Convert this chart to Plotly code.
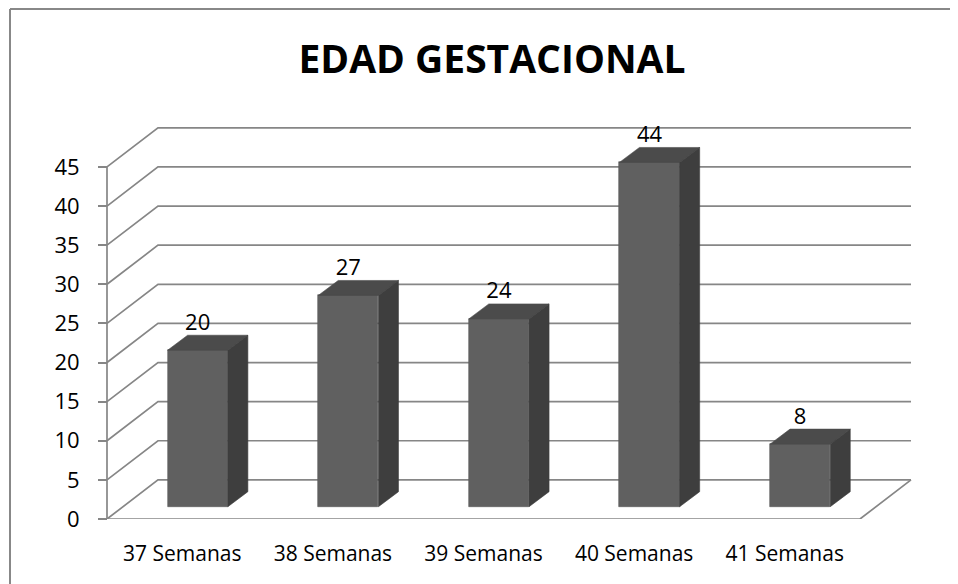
import plotly.graph_objects as go

# ---- data ----
CATEGORIES = ["37 Semanas", "38 Semanas", "39 Semanas", "40 Semanas", "41 Semanas"]
VALUES = [20, 27, 24, 44, 8]
Y_TICKS = [0, 5, 10, 15, 20, 25, 30, 35, 40, 45]
TITLE = "EDAD GESTACIONAL"

# ---- style / pseudo-3D projection (in axis units) ----
PAGE = 8                      # browser body margin
W, H = 958 - PAGE, 584 - PAGE
AXIS_PX = 107 - PAGE          # pixel x of front y-axis
ML, MR, MT, MB = 98 - PAGE, 38, 120 - PAGE, 65
PX_X = 150.6                  # pixels per category unit
Y_MAX = 51.0
WALL_DX, WALL_DY = 0.3386, 5.0      # back-wall depth offset
BAR_DX0, BAR_DY0 = 0.1023, 1.57     # bar front plane offset
BAR_W = 0.4
BAR_SX, BAR_SY = 0.133, 1.92        # bar depth
GRID = "#868686"
FRONT, TOP, SIDE = "#606060", "#4b4b4b", "#3e3e3e"
FONT = "Open Sans"

n = len(CATEGORIES)
plot_w = W - ML - MR
plot_h = H - MT - MB
x_lo = -(AXIS_PX - ML) / PX_X
x_hi = x_lo + plot_w / PX_X

fig = go.Figure()

# gridlines (left wall + back wall), floor and front axis line -> shapes below traces
grid_line = dict(color=GRID, width=1.7)
for v in Y_TICKS:
    fig.add_shape(type="path", xref="x", yref="y", layer="below", line=grid_line,
                  path=f"M 0,{v} L {WALL_DX},{v + WALL_DY} L {n + WALL_DX},{v + WALL_DY}")
fig.add_shape(type="path", xref="x", yref="y", layer="below", line=grid_line,
              path=f"M 0,{max(Y_TICKS)} L 0,0 L {n},0 L {n + WALL_DX},{WALL_DY}")

centers = [i + 0.5 + BAR_DX0 for i in range(n)]

# front faces
fig.add_trace(go.Bar(x=centers, y=VALUES, base=BAR_DY0, width=BAR_W,
                     marker=dict(color=FRONT, line=dict(color="#5a5a5a", width=0.6)),
                     hoverinfo="skip", showlegend=False))

# top and side faces
tx, ty, sx, sy = [], [], [], []
for c, v in zip(centers, VALUES):
    x0, x1 = c - BAR_W / 2, c + BAR_W / 2
    yt = BAR_DY0 + v
    tx += [x0, x1, x1 + BAR_SX, x0 + BAR_SX, x0, None]
    ty += [yt, yt, yt + BAR_SY, yt + BAR_SY, yt, None]
    sx += [x1, x1 + BAR_SX, x1 + BAR_SX, x1, x1, None]
    sy += [BAR_DY0, BAR_DY0 + BAR_SY, yt + BAR_SY, yt, BAR_DY0, None]
fig.add_trace(go.Scatter(x=tx, y=ty, mode="lines", fill="toself", fillcolor=TOP,
                         line=dict(color=TOP, width=0.6), hoverinfo="skip", showlegend=False))
fig.add_trace(go.Scatter(x=sx, y=sy, mode="lines", fill="toself", fillcolor=SIDE,
                         line=dict(color=SIDE, width=0.6), hoverinfo="skip", showlegend=False))

# data labels
fig.add_trace(go.Scatter(x=centers, y=[BAR_DY0 + v + BAR_SY for v in VALUES],
                         text=[str(v) for v in VALUES], mode="text", textposition="top center",
                         textfont=dict(family=FONT, size=22, color="black"),
                         cliponaxis=False, hoverinfo="skip", showlegend=False))

# chart-area border (top & left visible)
bx = (2 - ML) / plot_w
by = (H - MB - 1) / plot_h
fig.add_shape(type="line", xref="paper", yref="paper", x0=bx, x1=bx, y0=-0.3, y1=by,
              line=dict(color="#888888", width=2))
fig.add_shape(type="line", xref="paper", yref="paper", x0=bx, x1=1.2, y0=by, y1=by,
              line=dict(color="#888888", width=2))

fig.update_layout(
    width=W, height=H,
    margin=dict(l=ML, r=MR, t=MT, b=MB),
    paper_bgcolor="white", plot_bgcolor="white",
    title=dict(text="<b>" + TITLE + "</b>", x=(492 - PAGE) / W, xanchor="center", xref="container",
               y=1 - (59 - PAGE) / H, yanchor="middle", yref="container",
               font=dict(family=FONT, size=39, color="black")),
    xaxis=dict(range=[x_lo, x_hi], tickvals=[i + 0.5 for i in range(n)], ticktext=CATEGORIES,
               ticks="", showgrid=False, showline=False, zeroline=False,
               tickfont=dict(family=FONT, size=21, color="black"), ticklabelstandoff=20),
    yaxis=dict(range=[0, Y_MAX], tickvals=Y_TICKS, anchor="free", position=(AXIS_PX - ML) / plot_w,
               ticks="outside", ticklen=9, tickcolor=GRID, tickwidth=1.7,
               showgrid=False, showline=False, zeroline=False,
               tickfont=dict(family=FONT, size=22, color="black"), ticklabelstandoff=14),
    bargap=0, showlegend=False,
)

fig.write_html("out.html")
